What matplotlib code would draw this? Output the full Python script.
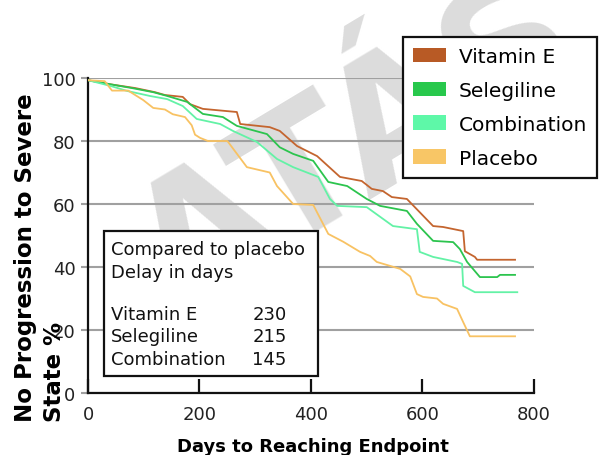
import matplotlib
matplotlib.use("Agg")
import matplotlib.pyplot as plt
from matplotlib.patches import Patch, Rectangle

# ── data ─────────────────────────────────────────────────────
vit_e_days = [0, 40, 85, 120, 138, 170, 183, 206, 267, 273, 326, 344, 375, 411, 452,
              491, 509, 529, 545, 572, 619, 637, 673, 676, 694, 698, 766]
vit_e_vals = [99.3, 98, 96.8, 95.5, 94.6, 94, 91.7, 90.2, 89.2, 85.4, 84.4, 83.2, 78.4, 75.2, 68.6,
              67.3, 64.8, 64.1, 62.2, 61.6, 53, 52.7, 51.4, 45, 43.2, 42.3, 42.3]

seleg_days = [0, 40, 79, 117, 142, 178, 206, 242, 267, 321, 344, 368, 404, 431, 465,
              500, 524, 572, 590, 619, 655, 667, 680, 703, 734, 739, 766]
seleg_vals = [99.3, 98, 96.8, 95.5, 94.3, 92.4, 88.6, 87.6, 84.8, 82.2, 78, 75.9, 73.7, 67, 65.7,
              61.6, 59.4, 57.8, 53.7, 48.3, 47.9, 45.7, 41.6, 36.8, 36.8, 37.5, 37.5]

combo_days = [0, 40, 70, 111, 142, 170, 195, 237, 260, 303, 339, 368, 413, 434, 447,
              500, 547, 590, 595, 619, 662, 671, 673, 694, 770]
combo_vals = [99.3, 97.5, 95.9, 94.3, 93.3, 91.1, 87, 85.4, 83.2, 79.7, 74.3, 71.7, 68.6, 61.6, 59.4,
              59, 53, 52, 44.8, 43.2, 41.6, 41, 34, 32, 32]

plac_days = [0, 30, 43, 72, 99, 117, 138, 152, 174, 186, 192, 201, 215, 250, 285, 326, 339,
             368, 404, 431, 458, 488, 506, 518, 560, 578, 590, 601, 626, 637, 662, 673, 685, 766]
plac_vals = [99.3, 99, 96, 96, 93, 90.5, 90, 88.5, 87.6, 85, 82, 81, 80, 80, 71.7, 70, 65.7,
             60, 59.7, 50.5, 48, 44.8, 43.5, 41.6, 39.4, 37, 31.4, 30.5, 30, 28.3, 26.7, 22.5, 18, 18]

labels = ["Vitamin E", "Selegiline", "Combination", "Placebo"]
line_colors = ["#C4652F", "#2CC44E", "#63F2A6", "#F8C263"]
patch_colors = ["#B85A25", "#28C84C", "#5EF8A8", "#F8C666"]

delay_names = ["Vitamin E", "Selegiline", "Combination"]
delay_days = [230, 215, 145]

# ── figure ───────────────────────────────────────────────────
W, H = 600, 456
fig = plt.figure(figsize=(W / 100, H / 100), dpi=100)
ax = fig.add_axes([88 / W, (H - 394) / H, (534 - 88) / W, (394 - 79) / H])
ax.patch.set_alpha(0)

# watermark behind everything
fig.text(358 / W, 1 - 150 / H, "ATÁS", fontsize=125, fontweight="bold", color="#dcdcdc",
         rotation=31, ha="center", va="center", zorder=-5)

series = [(vit_e_days, vit_e_vals), (seleg_days, seleg_vals),
          (combo_days, combo_vals), (plac_days, plac_vals)]
for (d, v), c in zip(series, line_colors):
    ax.plot(d, v, color=c, lw=1.3, zorder=3)

ax.set_xlim(0, 800)
ax.set_ylim(0, 100)
ax.set_xticks([0, 200, 400, 600, 800])
ax.set_yticks([0, 20, 40, 60, 80, 100])
ax.yaxis.grid(True, color="#a0a0a0", lw=1.5, zorder=1)
ax.set_axisbelow(True)

for s in ["top", "right"]:
    ax.spines[s].set_visible(False)
for s in ["left", "bottom"]:
    ax.spines[s].set_linewidth(1.6)
    ax.spines[s].set_color("#111111")

ax.tick_params(axis="x", direction="in", length=10, width=1.6, pad=9,
               labelsize=13, labelcolor="#222222", color="#111111")
ax.tick_params(axis="y", direction="out", length=5, width=1.5, pad=4,
               labelsize=13, labelcolor="#222222", color="#a0a0a0")

fig.text(313 / W, 1 - 447 / H, "Days to Reaching Endpoint", fontsize=13,
         fontweight="bold", ha="center", va="center")
fig.text(40 / W, 1 - 422 / H, "No Progression to Severe\nState %", fontsize=16.5,
         fontweight="bold", rotation=90, ha="center", va="bottom",
         multialignment="left", linespacing=1.3)

# legend box
handles = [Patch(facecolor=c, edgecolor="none") for c in patch_colors]
leg = ax.legend(handles, labels, loc="upper left",
                bbox_to_anchor=(403 / W, 1 - 38 / H), bbox_transform=fig.transFigure,
                fontsize=14.5, handlelength=1.64, handleheight=0.75, handletextpad=0.62,
                labelspacing=0.74, borderpad=0.5, borderaxespad=0,
                fancybox=False, framealpha=1, edgecolor="#111111")
leg.get_frame().set_linewidth(1.6)

# inset box with delays
x0, x1 = (104 - 88) / 446, (318 - 88) / 446
y0, y1 = (394 - 377) / 315, (394 - 232) / 315
ax.add_patch(Rectangle((x0, y0), x1 - x0, y1 - y0, transform=ax.transAxes,
                       facecolor="white", edgecolor="#111111", lw=1.6, zorder=5))
ax.text(0.052, (394 - 250) / 315, "Compared to placebo", transform=ax.transAxes,
        fontsize=13, va="center", zorder=6, color="#111111")
ax.text(0.052, (394 - 273) / 315, "Delay in days", transform=ax.transAxes,
        fontsize=13, va="center", zorder=6, color="#111111")
for i, (nm, dd) in enumerate(zip(delay_names, delay_days)):
    yy = (394 - (315 + 22.5 * i)) / 315
    ax.text(0.052, yy, nm, transform=ax.transAxes, fontsize=13, va="center",
            zorder=6, color="#111111")
    ax.text(0.368, yy, str(dd), transform=ax.transAxes, fontsize=13, va="center",
            zorder=6, color="#111111")

fig.savefig("out.png", dpi=100)
